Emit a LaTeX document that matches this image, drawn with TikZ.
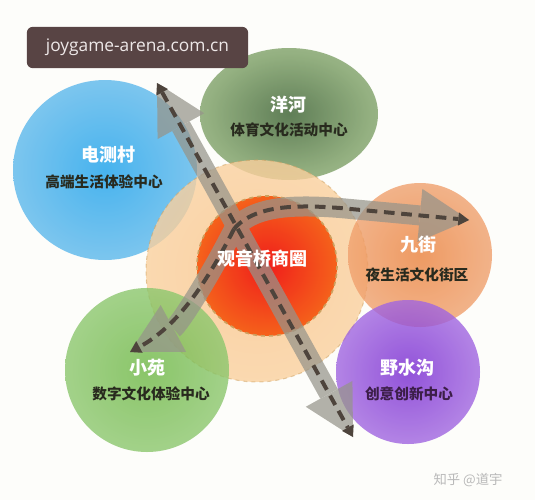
\documentclass[tikz,border=0pt]{standalone}
\usepackage{fontspec}
\setmainfont{Open Sans}
\newfontfamily\cjk{Noto Sans CJK SC}
\usetikzlibrary{arrows.meta}

\definecolor{paper}{RGB}{253,253,250}
\definecolor{tagbrown}{RGB}{88,68,68}
\definecolor{tagtext}{RGB}{238,232,232}
\definecolor{bandgray}{RGB}{150,148,138}
\definecolor{dashbrown}{RGB}{78,68,60}
\definecolor{subdark}{RGB}{40,42,30}
\definecolor{subpurple}{RGB}{60,30,72}
\definecolor{rimtan}{RGB}{205,160,95}
\definecolor{marktext}{RGB}{185,185,185}

% radial fills, edge of circle at 50bp
\pgfdeclareradialshading{blueball}{\pgfpoint{0bp}{0bp}}{rgb(0bp)=(0.10,0.63,0.92); rgb(22bp)=(0.33,0.71,0.92); rgb(50bp)=(0.62,0.81,0.93)}
\pgfdeclareradialshading{greenball}{\pgfpoint{0bp}{0bp}}{rgb(0bp)=(0.22,0.37,0.18); rgb(22bp)=(0.47,0.61,0.38); rgb(50bp)=(0.73,0.82,0.64)}
\pgfdeclareradialshading{paleball}{\pgfpoint{0bp}{0bp}}{rgb(0bp)=(0.98,0.78,0.55); rgb(50bp)=(0.98,0.85,0.69)}
\pgfdeclareradialshading{redball}{\pgfpoint{0bp}{0bp}}{rgb(0bp)=(0.94,0.08,0.08); rgb(25bp)=(0.96,0.36,0.08); rgb(50bp)=(0.98,0.65,0.12)}
\pgfdeclareradialshading{nineball}{\pgfpoint{0bp}{0bp}}{rgb(0bp)=(0.92,0.51,0.24); rgb(25bp)=(0.94,0.63,0.43); rgb(50bp)=(0.96,0.78,0.67)}
\pgfdeclareradialshading{purpleball}{\pgfpoint{0bp}{0bp}}{rgb(0bp)=(0.47,0.16,0.82); rgb(25bp)=(0.63,0.40,0.88); rgb(50bp)=(0.80,0.69,0.94)}
\pgfdeclareradialshading{leafball}{\pgfpoint{0bp}{0bp}}{rgb(0bp)=(0.43,0.72,0.27); rgb(25bp)=(0.55,0.78,0.43); rgb(50bp)=(0.71,0.84,0.63)}

\begin{document}
\begin{tikzpicture}[x=0.75pt,y=0.75pt,yscale=-1,xscale=1,
  zone/.style={fill opacity=0.8},
  band/.style={draw=bandgray,line width=15pt,line cap=butt},
  bandtip/.tip={Triangle[width=40pt,length=37pt,line width=0pt]},
  dashline/.style={draw=dashbrown,line width=3pt,dash pattern=on 8pt off 5pt},
  dashtip/.tip={Triangle[width=10pt,length=8pt,line width=0pt]},
  title/.style={text=white,font=\cjk\bfseries\fontsize{13.5}{16}\selectfont},
  subtitle/.style={text=subdark,font=\cjk\bfseries\fontsize{11}{13}\selectfont}]
%set diagram left start at 0, and has height of 500
\path[use as bounding box,fill=paper] (0,0) rectangle (535,500);

%Shape: Ellipse blue
\shade[zone,shading=blueball] (105,170) ellipse [x radius=92, y radius=90];
%Shape: Ellipse green
\shade[zone,shading=greenball] (289,114) ellipse [x radius=89, y radius=66];
%Shape: Circle pale
\shade[zone,shading=paleball] (257,271) circle [radius=111];
\draw[rimtan,opacity=0.5,dashed,line width=0.8pt] (257,271) circle [radius=111];
%Shape: Circle orange
\shade[zone,shading=nineball] (420,255) circle [radius=72];
%Shape: Circle purple
\shade[zone,shading=purpleball] (408,372) circle [radius=72];
%Shape: Circle light green
\shade[zone,shading=leafball] (147,370) circle [radius=82];
%Shape: Circle red core
\shade[shading=redball,fill opacity=0.95] (267,266) circle [radius=70];
\draw[rimtan,dashed,line width=1.2pt] (267,266) circle [radius=70];

% ends of the routes
\coordinate (jn) at (234,229);
\coordinate (nw) at (157,83);
\coordinate (se) at (353,437);
\coordinate (ea) at (469,220);
\coordinate (sw) at (130,352);

%Straight Lines [band]
\begin{scope}[transparency group,opacity=0.72]
\draw[band,bandtip-bandtip] (nw) -- (se);
\draw[band,-bandtip] (jn) .. controls (255,204) and (300,205) .. (340,208) -- (ea);
\draw[band,-bandtip] (jn) .. controls (207,282) and (178,326) .. (sw);
\end{scope}
%Straight Lines [dashes]
\draw[dashline,dashtip-dashtip] (nw) -- (se);
\draw[dashline,-dashtip] (jn) .. controls (255,204) and (300,205) .. (340,208) -- (ea);
\draw[dashline,-dashtip] (jn) .. controls (207,282) and (178,326) .. (sw);

% Text Node
\node[title] (dcc) at (108,155) {电测村};
\node[subtitle] (dcs) at (104,182) {高端生活体验中心};
% Text Node
\node[title] (yh) at (288,105) {洋河};
\node[subtitle] (yhs) at (289,130) {体育文化活动中心};
% Text Node
\node[title] (gyq) at (262,259) {观音桥商圈};
% Text Node
\node[title] (jj) at (418,245) {九街};
\node[subtitle] (jjs) at (417,275) {夜生活文化街区};
% Text Node
\node[title] (xy) at (147,368) {小苑};
\node[subtitle] (xys) at (151,394) {数字文化体验中心};
% Text Node
\node[title] (ysg) at (407,368) {野水沟};
\node[subtitle,text=subpurple] (ysgs) at (409,394) {创意创新中心};

% Text Node
\node[fill=tagbrown,rounded corners=4.5pt,minimum width=166pt,minimum height=31pt,
  inner sep=0pt,text=tagtext,font=\fontsize{13}{15}\selectfont] (tag) at (137.5,47.5) {joygame-arena.com.cn};
% Text Node
\node[text=marktext,font=\cjk\fontsize{10}{12}\selectfont] (mark) at (468,480) {知乎 @道宇};
\end{tikzpicture}
\end{document}
